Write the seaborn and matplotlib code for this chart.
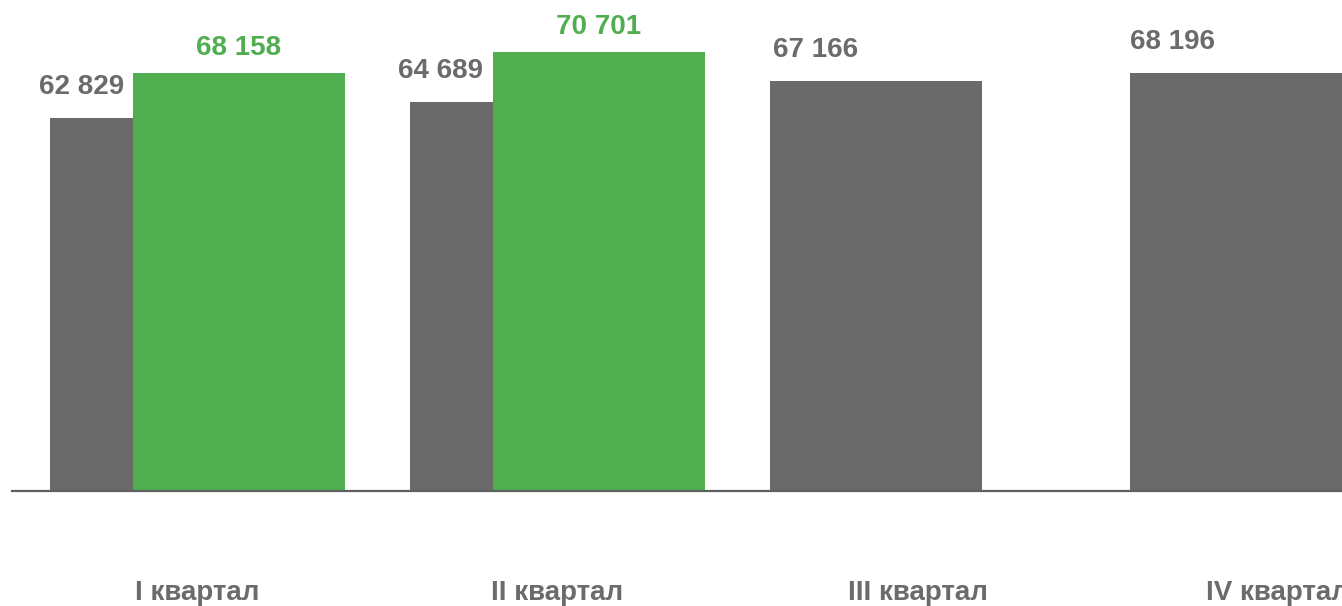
import matplotlib
matplotlib.use("Agg")
import matplotlib.pyplot as plt
import seaborn as sns
import pandas as pd

# ---- data ----
quarters = ["I квартал", "II квартал", "III квартал", "IV квартал"]
prev_values = [62829, 64689, 67166, 68196]
curr_quarters = ["I квартал", "II квартал"]
curr_values = [68158, 70701]

def fmt(v):
    return f"{v:,}".replace(",", " ")

sns.set_theme(style="white")
plt.rcParams["font.family"] = ["Liberation Sans", "DejaVu Sans"]

GREY = "#6a6a6a"
GREEN = "#50ae50"
TEXT_GREY = "#6b6b6b"
AXIS_GREY = "#5f5f5f"

fig = plt.figure(figsize=(13.42, 6.06), dpi=100)
ax = fig.add_axes([12 / 1342, 115 / 606, 1 - 12 / 1342, 1 - 115 / 606])

df_prev = pd.DataFrame({"quarter": quarters, "value": prev_values})
df_curr = pd.DataFrame({"quarter": curr_quarters, "value": curr_values})

bar_w = 0.589
shift = 0.115

sns.barplot(data=df_prev, x="quarter", y="value", order=quarters, color=GREY,
            saturation=1, width=bar_w, ax=ax, zorder=2)
n_prev = len(ax.patches)
for p in ax.patches:
    p.set_x(p.get_x() - shift)
    p.set_edgecolor("none")

sns.barplot(data=df_curr, x="quarter", y="value", order=quarters, color=GREEN,
            saturation=1, width=bar_w, ax=ax, zorder=3)
for p in ax.patches[n_prev:]:
    p.set_x(p.get_x() + shift)
    p.set_edgecolor("none")

ax.set_xlim(-0.5153, 3.179)
ax.set_ylim(18656, 76803)

# value labels
grey_dx = [-0.321, -0.325, -0.283, -0.293]
for i, v in enumerate(prev_values):
    ax.annotate(fmt(v), xy=(i + grey_dx[i], v), xytext=(0, 31 * 72 / 100),
                textcoords="offset points", ha="center", va="center",
                fontsize=20, fontweight="bold", color=TEXT_GREY, zorder=5)
for q, v in zip(curr_quarters, curr_values):
    i = quarters.index(q)
    ax.annotate(fmt(v), xy=(i + shift, v), xytext=(0, 24.5 * 72 / 100),
                textcoords="offset points", ha="center", va="center",
                fontsize=20, fontweight="bold", color=GREEN, zorder=5)

ax.set_xlabel("")
ax.set_ylabel("")
ax.set_yticks([])
ax.tick_params(axis="x", length=0, pad=64, labelsize=20, labelcolor=TEXT_GREY)
for lbl in ax.get_xticklabels():
    lbl.set_fontweight("bold")

for s in ["top", "right", "left"]:
    ax.spines[s].set_visible(False)
ax.spines["bottom"].set_color(AXIS_GREY)
ax.spines["bottom"].set_linewidth(1.6)
ax.spines["bottom"].set_zorder(4)
ax.patch.set_alpha(0)

fig.savefig("out.png", dpi=100, facecolor="white")
